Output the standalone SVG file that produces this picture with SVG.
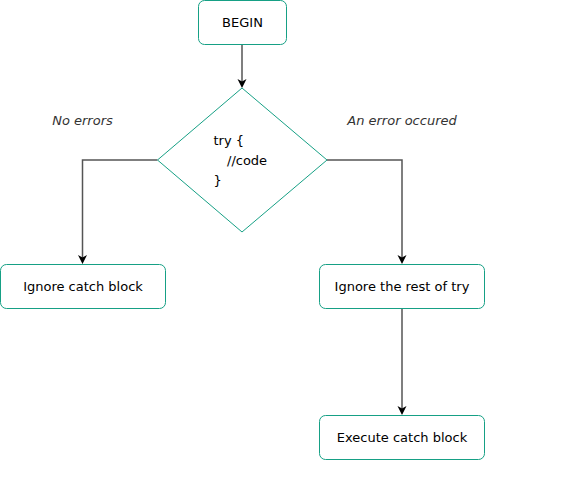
<svg xmlns="http://www.w3.org/2000/svg" width="587" height="477" viewBox="0 0 587 477">
<style>
.node{fill:#ffffff;stroke:#16a085;stroke-width:1}
.t{font-family:"DejaVu Sans",Verdana,sans-serif;font-size:13px;fill:#000000}
.lbl{font-family:"DejaVu Sans",Verdana,sans-serif;font-size:13px;font-style:italic;fill:#333333}
.edge{fill:none;stroke:#555555;stroke-width:1.5}
.head{fill:#000000}
</style>
<rect width="587" height="477" fill="#ffffff"/>
<g id="connectors">
<path class="edge" d="M242,44.5 V82"/>
<path class="edge" d="M157.5,160 H82.5 V258"/>
<path class="edge" d="M327,160 H402 V258"/>
<path class="edge" d="M402,308.5 V409"/>
<path class="head" d="M237.5,79 L242,88 L246.5,79 L242,81.5 Z"/>
<path class="head" d="M78,255 L82.5,264 L87,255 L82.5,257.5 Z"/>
<path class="head" d="M397.5,255 L402,264 L406.5,255 L402,257.5 Z"/>
<path class="head" d="M397.5,406 L402,415 L406.5,406 L402,408.5 Z"/>
</g>
<g id="begin">
<rect class="node" x="198.5" y="0.5" width="88" height="44" rx="6"/>
<text class="t" x="242.5" y="27" text-anchor="middle">BEGIN</text>
</g>
<g id="try">
<polygon class="node" points="242,88 327,160 242,232 157.5,160"/>
<text class="t" x="213.5" y="145">try {</text>
<text class="t" x="227" y="165">//code</text>
<text class="t" x="213.5" y="185">}</text>
</g>
<g id="noerrors">
<text class="lbl" x="82.5" y="125" text-anchor="middle">No errors</text>
</g>
<g id="error">
<text class="lbl" x="402" y="125" text-anchor="middle">An error occured</text>
</g>
<g id="ignorecatch">
<rect class="node" x="0.5" y="264.5" width="165" height="44" rx="6"/>
<text class="t" x="83" y="291" text-anchor="middle">Ignore catch block</text>
</g>
<g id="ignorerest">
<rect class="node" x="319.5" y="264.5" width="165" height="44" rx="6"/>
<text class="t" x="402" y="291" text-anchor="middle">Ignore the rest of try</text>
</g>
<g id="execute">
<rect class="node" x="319.5" y="415.5" width="165" height="44" rx="6"/>
<text class="t" x="402" y="442" text-anchor="middle">Execute catch block</text>
</g>
</svg>
